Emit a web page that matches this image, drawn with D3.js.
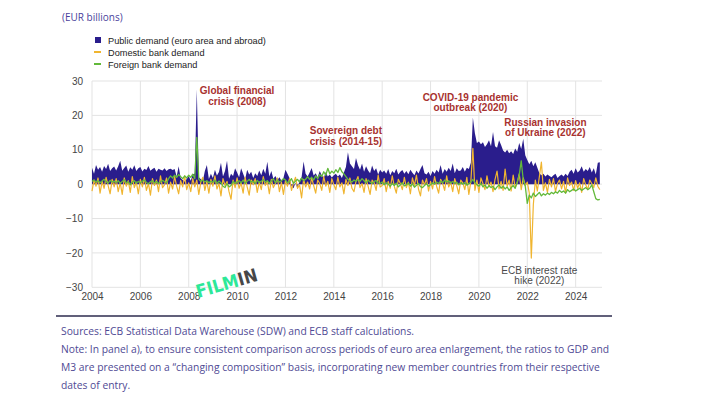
<!DOCTYPE html>
<html>
<head>
<meta charset="UTF-8">
<style>
  body { margin: 0; background: #fff; }
  svg { display: block; }
  .tick text { font-family: "Liberation Sans", Arial, sans-serif; font-size: 10px; fill: #444; }
  .note { font-family: "Open Sans", sans-serif; font-size: 10.3px; fill: #4f4a94; }
  .ann { font-family: "Liberation Sans", Arial, sans-serif; font-size: 10px; font-weight: bold; fill: #a8322f; }
  .leg { font-family: "Liberation Sans", Arial, sans-serif; font-size: 9.2px; fill: #222; }
</style>
</head>
<body>
<svg></svg>
<script src="https://d3js.org/d3.v7.min.js"></script>
<script>
let width = 704, height = 396;

// monthly values, Jan 2004 .. Jan 2025 (EUR billions), one row per year
let publicDemand = [
  4.8, 3.0, 5.6, 4.2, 5.0, 3.6, 5.3, 4.4, 5.9, 3.8, 4.6, 5.1,
  4.0, 5.2, 6.8, 3.9, 4.7, 5.4, 3.6, 4.9, 4.2, 5.5, 3.8, 4.6,
  5.0, 3.7, 4.5, 4.1, 5.3, 3.9, 4.4, 4.8, 3.6, 4.5, 4.2, 4.0,
  4.6, 3.8, 4.3, 4.5, 4.1, 4.4, 2.2, 5.2, 1.8, 1.2, 0.8, 1.5,
  2.4, 1.0, 2.8, 3.1, 27.5, 2.0, 1.4, 0.9, 3.8, 5.6, 1.5, 3.0,
  1.8, 4.2, 2.5, 3.5, 6.2, 2.2, 3.8, 6.8, 1.6, 3.0, 2.4, 4.6,
  3.4, 2.0, 4.6, 3.0, 1.5, 4.2, 2.8, 3.6, 1.8, 3.2, 2.4, 4.0,
  2.6, 4.5, 3.0, 6.5, 2.2, 3.8, 1.6, 2.4, 1.2, 2.0, 1.0, 1.8,
  4.2, 3.0, 1.8, -0.6, -1.2, 0.4, -1.4, 1.2, 2.0, 6.6, 3.0, 2.2,
  3.4, 4.7, 2.5, 3.2, 2.0, 3.8, 2.6, 1.8, 3.5, 2.2, 2.8, 1.9,
  2.6, 3.0, 2.2, 2.8, 1.8, 3.4, 5.0, 9.3, 6.0, 5.2, 4.4, 7.6,
  5.5, 4.2, 6.0, 3.6, 5.2, 4.0, 3.2, 5.4, 3.8, 4.6, 2.8, 4.2,
  3.4, 4.0, 3.0, 4.4, 2.6, 3.8, 3.2, 4.5, 2.8, 3.6, 4.1, 3.0,
  3.8, 2.9, 4.2, 3.3, 2.6, 4.0, 3.1, 4.4, 5.6, 3.2, 2.8, 3.6,
  2.4, 3.8, 3.0, 4.2, 3.4, 5.6, 3.0, 4.4, 3.6, 4.8, 3.8, 6.0,
  3.2, 4.6, 3.8, 4.0, 5.0, 3.6, 4.8, 4.4, 6.2, 19.4, 14.8, 12.0,
  12.4, 11.6, 12.2, 10.8, 11.6, 12.8, 11.0, 15.2, 11.0, 10.6, 12.8, 11.4,
  9.8, 9.2, 10.0, 9.0, 9.6, 8.8, 10.4, 9.4, 12.0, 10.2, 13.2, 8.4,
  7.0, 5.8, 6.8, 5.2, 6.4, 4.8, 3.2, 2.6, 3.0, 2.2, 2.8, 2.4,
  2.0, 2.6, 3.0, 1.8, 2.4, 2.8, 2.2, 3.0, 2.4, 3.6, 4.2, 3.0,
  4.6, 3.4, 4.0, 5.2, 3.6, 4.4, 3.8, 5.0, 3.4, 4.6, 2.8, 6.2,
  6.4
];
let domesticDemand = [
  -2.0, 1.2, -0.6, 1.8, -2.6, 0.8, -1.2, 2.0, -0.4, -2.8, 1.4, -0.8,
  1.6, -2.2, 0.4, -3.0, 1.8, -0.6, 1.0, -2.4, 2.2, -1.0, 0.6, -2.8,
  1.4, -0.8, 2.0, -1.8, 0.2, -3.2, 1.6, -0.4, 1.2, -2.2, 2.4, -1.0,
  -0.2, 1.8, -2.6, 0.6, -1.4, 2.2, -0.6, -2.8, 1.0, -0.8, 2.4, -1.6,
  0.4, -2.2, 1.6, -0.8, 1.2, -3.0, 0.6, 2.0, -1.8, 0.8, -2.6, 1.4,
  -0.6, 2.4, -1.4, 0.2, -3.4, 1.6, -0.4, 0.8, -2.2, -4.4, 1.2, -1.0,
  1.8, -1.2, 0.4, -2.6, 2.0, -0.8, -3.2, 1.2, -0.2, 1.6, -2.4, 0.6,
  -1.6, 2.2, -0.4, 0.8, -2.8, 1.4, -1.0, 0.2, 1.8, -2.2, 0.6, -3.0,
  1.0, -0.6, 1.6, -1.8, 0.4, 2.0, -1.2, -0.2, -4.0, 1.4, -0.8, 0.6,
  -1.4, 1.8, -0.4, -2.6, 1.2, 0.2, -1.8, 2.2, -0.6, 0.8, -2.4, 1.6,
  -0.2, -1.6, 2.0, -0.8, 0.4, -2.8, 1.4, -0.4, 1.8, -1.2, -2.2, 0.8,
  2.2, -1.0, 0.2, -2.4, 1.6, -0.6, -3.0, 1.2, 0.4, -1.8, 2.6, -0.8,
  -0.4, 1.6, -2.2, 0.8, -1.2, 2.4, -0.6, -2.6, 1.4, 0.2, -1.6, 2.0,
  -1.0, 0.6, -2.8, 1.8, -0.4, 2.6, -1.4, -3.4, 1.2, -0.2, 1.6, -2.0,
  0.8, -1.4, 2.2, -0.6, -2.6, 1.4, 0.2, -1.8, 2.4, -0.8, 0.6, -2.2,
  1.6, -0.4, -2.8, 1.2, 0.4, -1.6, 2.0, -3.0, 0.8, 10.4, -1.8, 1.2,
  -2.4, 1.8, 0.2, -1.6, 2.4, -0.8, 0.6, -2.2, 1.4, 3.8, -1.4, 0.8,
  -1.8, 4.4, -0.6, 1.2, -2.0, 2.6, -1.0, 0.4, 3.0, -1.6, 1.8, -0.4,
  0.6, -2.6, -21.5, -6.0, 1.2, -2.0, 2.2, 6.4, -1.8, 0.4, -2.4, 1.4,
  -0.8, 1.6, -2.2, 0.2, 1.2, -1.4, 0.8, -2.6, 1.8, -0.4, 0.6, -1.8,
  1.0, -1.2, 0.4, -2.4, 1.6, -0.2, -1.6, 1.2, 0.2, -1.0, 1.8, -0.6,
  -1.6
];
let foreignDemand = [
  0.8, 1.2, 0.6, 1.0, 0.4, 0.9, 1.4, 0.7, 0.3, 1.1, 0.6, 0.9,
  0.5, 1.0, 0.2, 0.8, 1.3, 0.4, 0.7, -0.2, 0.6, 1.0, 0.3, 0.8,
  0.4, 0.9, 1.2, 0.5, 0.1, 0.7, 1.0, 0.3, 0.8, 0.2, 0.6, 1.1,
  0.7, 0.4, 1.6, 2.4, 1.8, 2.6, 2.0, 2.8, 2.2, 1.6, 2.4, 1.8,
  2.6, 2.0, 2.9, 1.6, 13.6, 1.4, 0.8, 1.2, 0.6, 1.0, 0.4, 0.8,
  0.6, 1.2, 0.2, 0.9, 0.4, -0.6, -1.0, 0.2, -0.8, -0.4, 0.8, 0.2,
  0.6, 1.0, 0.4, 1.2, 0.2, 0.8, 1.4, 0.6, 0.9, 0.2, 1.1, 0.5,
  0.8, 1.4, 0.6, 1.0, 0.2, 0.9, 1.6, 0.4, 1.2, 0.6, 1.0, 1.6,
  1.2, 0.4, 0.8, 1.6, 0.2, 0.9, 1.4, 0.6, 1.8, 1.0, 1.4, 2.2,
  1.4, 2.0, 1.2, 2.4, 1.6, 2.8, 2.2, 3.6, 2.6, 4.6, 3.0, 3.8,
  3.2, 4.2, 3.4, 4.8, 3.6, 3.0, 2.2, 1.4, 1.0, 0.6, 1.2, 0.8,
  1.4, 0.8, 1.6, 1.0, 0.4, 1.2, 0.6, 0.2, 0.8, 1.0, 0.4, 0.2,
  0.6, -0.2, 0.4, 0.0, -0.6, 0.2, -0.4, 0.3, -0.8, -0.2, 0.4, -0.5,
  -0.2, 0.3, -0.6, 0.1, -0.9, -0.3, 0.2, -0.7, -1.0, -0.4, 0.1, -0.6,
  -0.2, 0.4, 0.0, 0.6, 0.2, 0.9, 0.4, 1.2, 0.6, 1.0, 0.3, 0.8,
  0.2, 0.6, -0.2, 0.4, 0.0, 0.5, -0.3, 0.2, 0.6, 1.4, 0.4, -0.2,
  -0.6, 0.2, -0.8, -0.2, -1.2, -0.4, -1.0, -0.6, -1.6, -0.8, -0.2, -1.2,
  -0.6, -1.4, -0.8, -1.8, -1.0, -0.4, -1.2, 0.6, 2.6, 6.8, 1.2, -0.6,
  -5.6, -3.2, -4.0, -2.6, -3.6, -3.0, -2.4, -3.4, -2.8, -3.2, -2.6, -3.0,
  -2.4, -2.8, -2.2, -2.6, -1.8, -2.4, -2.0, -2.6, -1.6, -2.2, -1.8, -1.4,
  -2.0, -1.6, -1.2, -1.8, -1.4, -1.0, -1.6, -1.2, -0.2, -2.2, -4.2, -4.6,
  -4.4
];

let yTicks = [30, 20, 10, 0, -10, -20, -30];
let xTicks = [2004, 2006, 2008, 2010, 2012, 2014, 2016, 2018, 2020, 2022, 2024];

let legendItems = ["Public demand (euro area and abroad)", "Domestic bank demand", "Foreign bank demand"];
let colors = ["#2a1d8c", "#f0b530", "#62b93a"];

let annotations = [
  {lines: ["Global financial", "crisis (2008)"], x: 2010.0, y: 26.1},
  {lines: ["Sovereign debt", "crisis (2014-15)"], x: 2014.5, y: 14.5},
  {lines: ["COVID-19 pandemic", "outbreak (2020)"], x: 2019.65, y: 24.3},
  {lines: ["Russian invasion", "of Ukraine (2022)"], x: 2022.75, y: 17.0}
];
let hikeNote = {lines: ["ECB interest rate", "hike (2022)"], x: 2022.5, y: -26.0};

let notes = [
  "Sources: ECB Statistical Data Warehouse (SDW) and ECB staff calculations.",
  "Note: In panel a), to ensure consistent comparison across periods of euro area enlargement, the ratios to GDP and",
  "M3 are presented on a \u201cchanging composition\u201d basis, incorporating new member countries from their respective",
  "dates of entry."
];

let svg = d3.select("svg")
  .attr("width", width)
  .attr("height", height);

let plotLeft = 92, plotRight = 602, plotTop = 81, plotBottom = 287.3;

let x = d3.scaleLinear().domain([2004, 2025.09]).range([plotLeft, plotRight]);
let y = d3.scaleLinear().domain([-30, 30]).range([plotBottom, plotTop]);

let t = i => 2004 + i / 12;

// grid
svg.append("g")
  .selectAll("line")
  .data(yTicks)
  .enter().append("line")
  .attr("x1", plotLeft).attr("x2", plotRight)
  .attr("y1", d => y(d)).attr("y2", d => y(d))
  .attr("stroke", "#e3e3e3").attr("stroke-width", 1);

svg.append("g")
  .selectAll("line")
  .data(xTicks)
  .enter().append("line")
  .attr("x1", d => x(d)).attr("x2", d => x(d))
  .attr("y1", plotTop).attr("y2", plotBottom)
  .attr("stroke", "#e3e3e3").attr("stroke-width", 1);

// axes (labels only)
let yAxis = svg.append("g")
  .attr("transform", "translate(" + plotLeft + ",0)")
  .call(d3.axisLeft(y).tickValues(yTicks).tickSize(0).tickPadding(9));
yAxis.select(".domain").remove();

let xAxis = svg.append("g")
  .attr("transform", "translate(0," + plotBottom + ")")
  .call(d3.axisBottom(x).tickValues(xTicks).tickFormat(d3.format("d")).tickSize(0).tickPadding(6));
xAxis.select(".domain").remove();

// public demand area
let area = d3.area()
  .x((d, i) => x(t(i)))
  .y0(y(0))
  .y1(d => y(d));

svg.append("path")
  .datum(publicDemand)
  .attr("d", area)
  .attr("fill", colors[0]);

let line = d3.line()
  .x((d, i) => x(t(i)))
  .y(d => y(d));

svg.append("path")
  .datum(domesticDemand)
  .attr("d", line)
  .attr("fill", "none")
  .attr("stroke", colors[1])
  .attr("stroke-width", 1.2)
  .attr("stroke-linejoin", "round");

svg.append("path")
  .datum(foreignDemand)
  .attr("d", line)
  .attr("fill", "none")
  .attr("stroke", colors[2])
  .attr("stroke-width", 1.3)
  .attr("stroke-linejoin", "round");

// annotations
function annotate(a, cls, fill) {
  let txt = svg.append("text")
    .attr("class", cls)
    .attr("text-anchor", "middle")
    .attr("x", x(a.x))
    .attr("y", y(a.y));
  if (fill) txt.style("fill", fill).style("font-weight", "normal");
  a.lines.forEach((l, k) => {
    txt.append("tspan").attr("x", x(a.x)).attr("dy", k == 0 ? 0 : 10.5).text(l);
  });
}
annotations.forEach(a => annotate(a, "ann"));
annotate(hikeNote, "ann", "#4a4a4a");

// title + legend
svg.append("text")
  .attr("x", 62).attr("y", 21)
  .attr("font-family", "Open Sans, sans-serif")
  .attr("font-size", "10px")
  .attr("fill", "#4a3f9c")
  .text("(EUR billions)");

let leg = svg.append("g").attr("transform", "translate(94,40)");
legendItems.forEach((name, i) => {
  let g = leg.append("g").attr("transform", "translate(0," + (i * 12) + ")");
  if (i == 0) {
    g.append("rect").attr("x", 1).attr("y", -3).attr("width", 6).attr("height", 6).attr("fill", colors[0]);
  } else {
    g.append("line").attr("x1", 0).attr("x2", 7).attr("y1", 0).attr("y2", 0)
      .attr("stroke", colors[i]).attr("stroke-width", 2);
  }
  g.append("text").attr("class", "leg").attr("x", 14).attr("y", 3.5).text(name);
});

// watermark
let wm = svg.append("text")
  .attr("transform", "translate(198,298) rotate(-16)")
  .attr("font-family", "DejaVu Sans, sans-serif")
  .attr("font-weight", "bold")
  .attr("font-size", "18px")
  .style("font-stretch", "condensed");
wm.append("tspan").attr("fill", "#2de898").text("FILM");
wm.append("tspan").attr("fill", "#474747").text("IN");

// footer
svg.append("line")
  .attr("x1", 56).attr("x2", 612)
  .attr("y1", 316).attr("y2", 316)
  .attr("stroke", "#2d2b4e").attr("stroke-width", 1.6);

svg.selectAll("text.note")
  .data(notes)
  .enter().append("text")
  .attr("class", "note")
  .attr("x", 61)
  .attr("y", (d, i) => 334.5 + i * 18)
  .text(d => d);
</script>
</body>
</html>
